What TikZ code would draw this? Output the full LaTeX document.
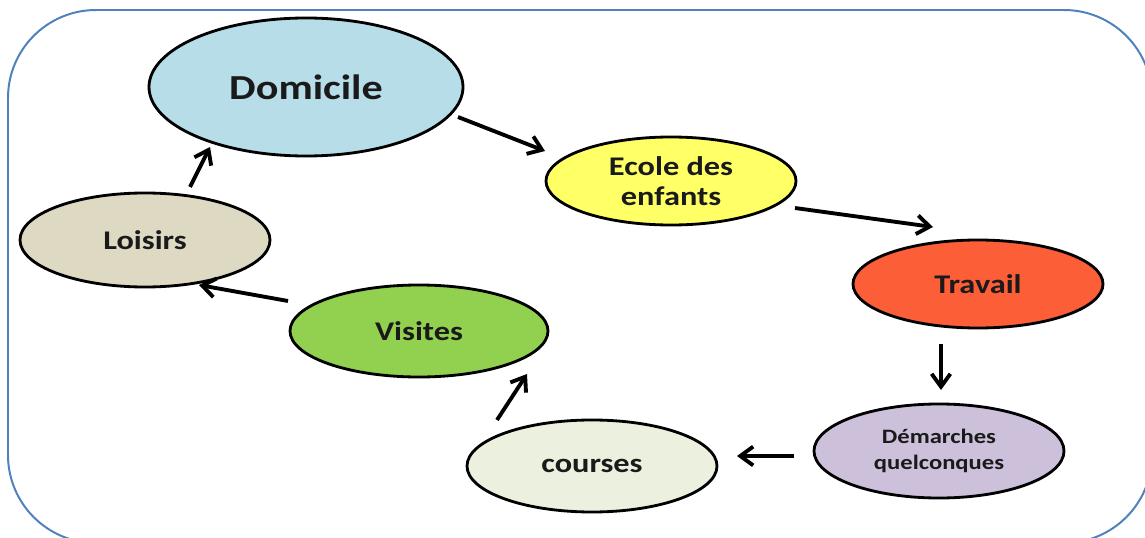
\documentclass[tikz,border=0pt]{standalone}
\usepackage{fontspec}
\newfontfamily\lblfont[FakeStretch=1.2]{Carlito}
\usetikzlibrary{arrows.meta,calc,shapes.geometric}
\definecolor{cdom}{RGB}{183,221,232}
\definecolor{ceco}{RGB}{255,255,102}
\definecolor{ctrav}{RGB}{252,94,56}
\definecolor{cdem}{RGB}{204,192,218}
\definecolor{ccou}{RGB}{235,241,222}
\definecolor{cvis}{RGB}{146,208,80}
\definecolor{cloi}{RGB}{221,217,195}
\definecolor{cframe}{RGB}{79,129,189}
\definecolor{ctext}{RGB}{26,26,26}
\begin{document}
\begin{tikzpicture}[x=0.03cm,y=-0.03cm,
  bub/.style={ellipse,draw=black,line width=2.4pt,inner sep=0pt,align=center,text=ctext,
    font=\lblfont\bfseries\fontsize{23}{26}\selectfont},
  small/.style={minimum width=7.5cm,minimum height=2.7cm},
  arr/.style={line width=3.3pt,-{Straight Barb[length=11pt,width=16pt]}},
  frame/.style={draw=cframe,line width=1.7pt,rounded corners=2.64cm}]
\useasboundingbox (0,0) rectangle (1145,538);
\draw[frame] (8,10) rectangle (1152,543);

\node[bub,fill=cdom,minimum width=9.42cm,minimum height=4.14cm,
  font=\lblfont\bfseries\fontsize{30}{34}\selectfont] (dom) at (306,87) {Domicile};
\node[bub,fill=ceco,small,minimum height=2.64cm] (eco) at (671,181) {Ecole des\\enfants};
\node[bub,fill=ctrav,small,minimum height=2.64cm] (trav) at (978,284) {Travail};
\node[bub,fill=cdem,small,minimum height=2.82cm,
  font=\lblfont\bfseries\fontsize{17.5}{22}\selectfont] (dem) at (939,451) {Démarches\\quelconques};
\node[bub,fill=ccou,small,minimum height=2.76cm] (cou) at (592,466) {courses};
\node[bub,fill=cvis,small,minimum width=7.74cm,minimum height=2.76cm] (vis) at (419,331) {Visites};
\node[bub,fill=cloi,small,minimum height=2.82cm] (loi) at (145,240) {Loisirs};

\draw[arr] ($(dom.center)+(152,30)$) -- ($(eco.center)+(-126,-30)$);
\draw[arr] ($(eco.center)+(124,27)$) -- ($(trav.center)+(-45,-57)$);
\draw[arr] ($(trav.center)+(-37,60)$) -- ($(dem.center)+(2,-61)$);
\draw[arr] ($(dem.center)+(-145,5)$) -- ($(cou.center)+(145,-10)$);
\draw[arr] ($(cou.center)+(-95,-46)$) -- ($(vis.center)+(108,43)$);
\draw[arr] ($(vis.center)+(-131,-30)$) -- ($(loi.center)+(54,45)$);
\draw[arr] ($(loi.center)+(45,-53)$) -- ($(dom.center)+(-96,60)$);
\end{tikzpicture}
\end{document}
